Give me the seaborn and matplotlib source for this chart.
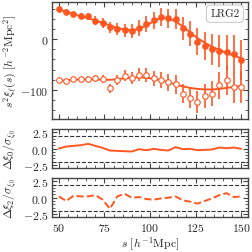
# BAO fit for LRG2: multipoles and residuals

import numpy as np
import matplotlib
matplotlib.use("Agg")
import matplotlib.pyplot as plt
import seaborn as sns
from matplotlib.ticker import MultipleLocator

# ==================================================
# DATA
# ==================================================

s = np.arange(50, 151, 4)

xi0_data = [59, 54, 49, 46, 45, 36, 31, 23, 20, 17, 16, 22, 30,
            37, 43, 41, 39, 21, 11, -5, -14, -20, -23, -26, -29, -41]
xi0_err = [4, 5, 5, 6, 7, 9, 10, 11, 12, 13, 14, 15, 16,
           17, 18, 19, 20, 22, 24, 26, 28, 30, 32, 34, 37, 40]
xi0_model = [58, 54, 49, 45, 41, 37, 32, 27, 22, 19, 18, 20, 27,
             35, 42, 41, 35, 25, 13, 2, -7, -15, -21, -27, -32, -38]

xi2_data = [-81, -83, -79, -79, -79, -77, -79, -97, -81, -72, -76, -70, -71,
            -77, -81, -85, -89, -107, -115, -124, -112, -107, -91, -81, -95, -94]
xi2_err = [4, 4, 5, 5, 6, 7, 8, 9, 10, 11, 12, 13, 14,
           15, 16, 17, 18, 19, 20, 22, 24, 25, 26, 28, 30, 32]
xi2_model = [-82, -81, -80, -79, -79, -79, -80, -80, -79, -77, -76, -75, -76,
             -78, -81, -85, -89, -93, -96, -98, -99, -99, -98, -96, -94, -92]

res0 = [0.0, 0.31, 0.41, 0.51, 0.72, 0.41, 0.10, -0.31, -0.36, -0.41, -0.46, -0.10, -0.26,
        -0.05, -0.21, -0.31, 0.21, -0.10, -0.05, -0.26, -0.21, -0.15, 0.15, 0.05, 0.15, -0.05]
res2 = [0.2, -0.5, 0.3, 0.2, 0.2, 0.4, -0.3, -1.7, 0.2, 0.6, 0.0, 0.1, -0.2,
        -0.3, -0.1, 0.0, 0.2, -0.4, -0.6, -0.9, -0.5, -0.1, 0.4, 0.7, 0.1, 0.2]

tracer = "LRG2"
color = "#ff5722"

# ==================================================
# STYLE
# ==================================================

sns.set_style("ticks")
plt.rcParams["font.family"] = "serif"
plt.rcParams["font.serif"] = ["cmr10", "DejaVu Serif"]
plt.rcParams["mathtext.fontset"] = "cm"
plt.rcParams["axes.formatter.use_mathtext"] = True
plt.rcParams["font.size"] = 8.5
plt.rcParams["axes.edgecolor"] = "#444444"
plt.rcParams["axes.linewidth"] = 1.0

fig = plt.figure(figsize=(2.53, 2.53), dpi=100)

ax0 = fig.add_axes([0.204, 0.526, 0.778, 0.462])
ax1 = fig.add_axes([0.204, 0.332, 0.778, 0.154], sharex=ax0)
ax2 = fig.add_axes([0.204, 0.137, 0.778, 0.155], sharex=ax0)

# ==================================================
# MULTIPOLES
# ==================================================

sns.lineplot(x=s, y=xi0_model, ax=ax0, color=color, lw=1.4)
sns.lineplot(x=s, y=xi2_model, ax=ax0, color=color, lw=1.4)

ax0.errorbar(s, xi0_data, yerr=xi0_err, fmt="o", color=color,
             ms=4, mew=0.8, elinewidth=1.2, capsize=0)
ax0.errorbar(s, xi2_data, yerr=xi2_err, fmt="o", color=color, mfc="white",
             ms=4, mew=0.8, elinewidth=1.2, capsize=0)

ax0.text(0.955, 0.9, tracer, transform=ax0.transAxes, ha="right", va="center",
         fontsize=8,
         bbox=dict(boxstyle="round,pad=0.35", fc="white", ec="#cccccc", lw=0.8))

ax0.set_ylim(-157, 73)
ax0.set_ylabel(r"$s^2\xi_\ell(s)\ [h^{-2}\mathrm{Mpc}^2]$")
ax0.yaxis.set_major_locator(MultipleLocator(100))
ax0.yaxis.set_minor_locator(MultipleLocator(20))

# ==================================================
# RESIDUALS
# ==================================================

sns.lineplot(x=s, y=res0, ax=ax1, color=color, lw=1.4)
sns.lineplot(x=s, y=res2, ax=ax2, color=color, lw=1.4, linestyle="--")

for ax in [ax1, ax2]:
    ax.axhline(2, color="#333333", ls="--", lw=0.8)
    ax.axhline(-2, color="#333333", ls="--", lw=0.8)
    ax.set_ylim(-3, 3)
    ax.yaxis.set_major_locator(MultipleLocator(2.5))
    ax.yaxis.set_minor_locator(MultipleLocator(0.5))

ax1.set_ylabel(r"$\Delta\xi_0/\sigma_{\xi_0}$")
ax2.set_ylabel(r"$\Delta\xi_2/\sigma_{\xi_0}$")

# ==================================================
# AXES
# ==================================================

ax2.set_xlim(46, 154)
ax2.xaxis.set_major_locator(MultipleLocator(25))
ax2.xaxis.set_minor_locator(MultipleLocator(5))
ax2.set_xlabel(r"$s\ [h^{-1}\mathrm{Mpc}]$", labelpad=1)

for ax in [ax0, ax1, ax2]:
    ax.tick_params(which="both", direction="in", top=True, right=True,
                   color="#444444", pad=2.5)
    ax.tick_params(which="major", length=3.5, width=0.8)
    ax.tick_params(which="minor", length=2, width=0.6)
    ax.yaxis.set_label_coords(-0.165, 0.5)

ax0.tick_params(labelbottom=False)
ax1.tick_params(labelbottom=False)

fig.savefig("out.png", dpi=100)
